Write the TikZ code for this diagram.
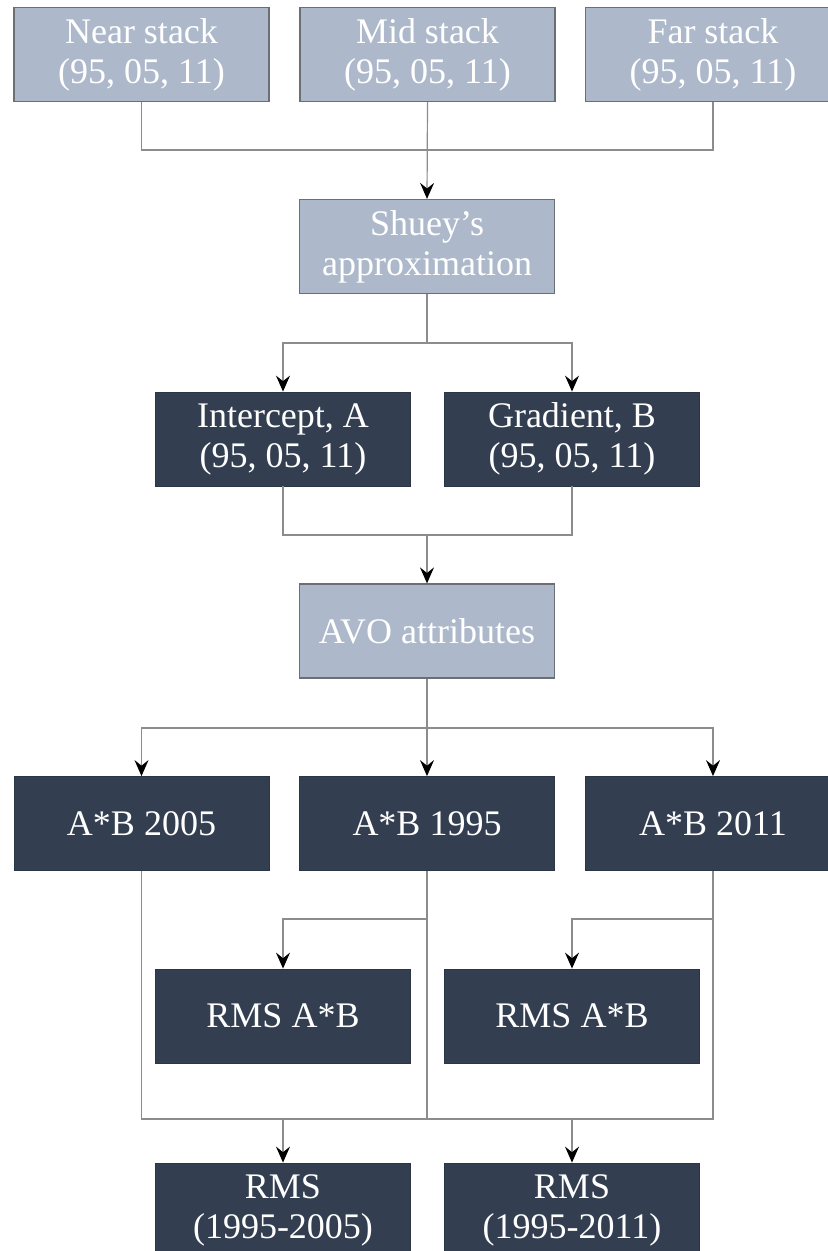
\documentclass[tikz,border=0pt]{standalone}
\usepackage{fontspec}
\setmainfont{Liberation Serif}
\usetikzlibrary{arrows.meta}
\definecolor{lightbox}{HTML}{ADB9CA}
\definecolor{darkbox}{HTML}{333F50}
\definecolor{lightedge}{HTML}{6A6E75}
\definecolor{wire}{HTML}{8C8C8C}
\begin{document}
\begin{tikzpicture}[x=0.5pt,y=-0.5pt,
  box/.style={minimum width=127.5pt,minimum height=47pt,inner sep=0pt,
    align=center,text=white,font=\fontsize{18pt}{20pt}\selectfont},
  lightnode/.style={box,fill=lightbox,draw=lightedge,line width=0.6pt},
  darknode/.style={box,fill=darkbox,draw=darkbox!85!black,line width=0.4pt},
  wireline/.style={draw=wire,line width=0.6pt},
  arr/.style={wireline,-{Stealth[length=8pt,width=7pt,inset=2.8pt,color=black]}}]
\useasboundingbox (0,0) rectangle (828,1251);
\clip (0,0) rectangle (828,1251);
\fill[white] (0,0) rectangle (828,1251);

% input stacks
\node[lightnode] (near) at (141.5,54.5) {Near stack\\(95, 05, 11)};
\node[lightnode] (mid)  at (427.5,54.5) {Mid stack\\(95, 05, 11)};
\node[lightnode] (far)  at (713,54.5)   {Far stack\\(95, 05, 11)};

\node[lightnode] (shuey) at (427,246.5) {Shuey's\\approximation};

\node[darknode] (icpt) at (283,439) {Intercept, A\\(95, 05, 11)};
\node[darknode] (grad) at (572,439) {Gradient, B\\(95, 05, 11)};

\node[lightnode] (avo) at (427,631) {AVO attributes};

\node[darknode] (ab05) at (141.5,823.5) {A*B 2005};
\node[darknode] (ab95) at (427,823.5)   {A*B 1995};
\node[darknode] (ab11) at (713,823.5)   {A*B 2011};

\node[darknode] (rmsa) at (283,1016) {RMS A*B};
\node[darknode] (rmsb) at (572,1016) {RMS A*B};

\node[darknode] (rms05) at (283,1210) {RMS\\(1995-2005)};
\node[darknode] (rms11) at (572,1210) {RMS\\(1995-2011)};

% junction points
\coordinate (j1) at (427.5,150);
\coordinate (j2) at (427,343);
\coordinate (j3) at (427,535);
\coordinate (j4) at (427,728);
\coordinate (s1) at (427,919);
\coordinate (s2) at (713,919);
\coordinate (m1) at (283,1119);
\coordinate (m2) at (572,1119);

% stacks into Shuey
\draw[wireline] (near.south) |- (j1) -| (far.south);
\draw[arr] (mid.south) -- (shuey.north);

% Shuey into A and B
\draw[wireline] (shuey.south) -- (j2);
\draw[arr] (j2) -| (icpt.north);
\draw[arr] (j2) -| (grad.north);

% A and B into AVO attributes
\draw[wireline] (icpt.south) |- (j3) -| (grad.south);
\draw[arr] (j3) -- (avo.north);

% AVO attributes into products
\draw[wireline] (avo.south) -- (j4);
\draw[arr] (j4) -| (ab05.north);
\draw[arr] (j4) -- (ab95.north);
\draw[arr] (j4) -| (ab11.north);

% products down to the RMS boxes
\draw[wireline] (ab05.south) -- (ab05.south |- m1) -- (m1);
\draw[wireline] (ab95.south) -- (ab95.south |- m1);
\draw[wireline] (ab11.south) -- (ab11.south |- m2) -- (m2);
\draw[wireline] (m1) -- (m2);
\draw[arr] (s1) -| (rmsa.north);
\draw[arr] (s2) -| (rmsb.north);
\draw[arr] (m1) -- (rms05.north);
\draw[arr] (m2) -- (rms11.north);
\end{tikzpicture}
\end{document}
